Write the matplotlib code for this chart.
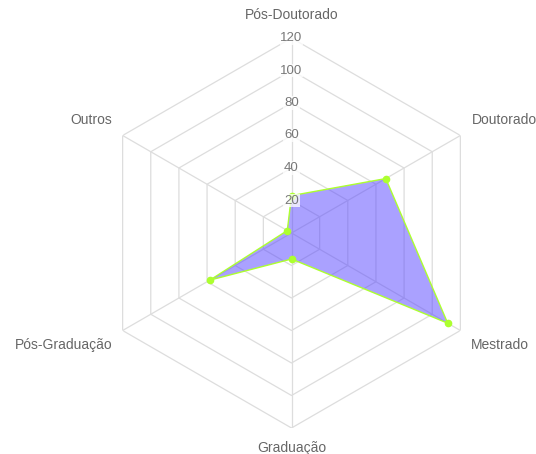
import numpy as np
import matplotlib
matplotlib.use("Agg")
import matplotlib.pyplot as plt

plt.rcParams['font.family'] = ['Liberation Sans', 'DejaVu Sans']

categories = ["Pós-Doutorado", "Doutorado", "Mestrado", "Graduação", "Pós-Graduação", "Outros"]
values = [23, 67, 111, 16, 58, 3]
ticks = [20, 40, 60, 80, 100, 120]

n = len(categories)
theta = np.arange(n) * 2 * np.pi / n
theta_c = np.append(theta, theta[0])

W, H = 536, 454
fig = plt.figure(figsize=(W / 100, H / 100), dpi=100)
cx, cy, R = 291.5, 233, 195
ax = fig.add_axes([(cx - R) / W, 1 - (cy + R) / H, 2 * R / W, 2 * R / H], projection='polar')
ax.set_theta_offset(np.pi / 2)
ax.set_theta_direction(-1)
ax.set_ylim(0, 120)
ax.grid(False)
ax.set_xticks([])
ax.set_yticks([])
ax.spines['polar'].set_visible(False)
ax.patch.set_visible(False)

grid_c = '#dddddd'
for t in ticks:
    ax.plot(theta_c, [t] * (n + 1), color=grid_c, lw=0.9, zorder=1)
for th in theta:
    ax.plot([th, th], [0, 120], color=grid_c, lw=0.9, zorder=1)

vals_c = values + values[:1]
ax.fill(theta_c, vals_c, color=(0.34, 0.27, 1.0), alpha=0.5, lw=0, zorder=2)
ax.plot(theta_c, vals_c, color='#adff2f', lw=1.0, zorder=3)
ax.plot(theta, values, 'o', color='#adff2f', ms=4.5, zorder=4)

for t in ticks:
    ax.text(0, t, str(t), ha='center', va='center', fontsize=9.5, color='#777777', zorder=5,
            bbox=dict(facecolor='white', alpha=0.75, edgecolor='none', pad=0.6))

offsets = [(0, 23, 'center'), (12, 16, 'left'), (11, -14.5, 'left'),
           (0, -20, 'center'), (-10.5, -14.5, 'right'), (-10.5, 15.5, 'right')]
for th, lab, (dx, dy, ha) in zip(theta, categories, offsets):
    ax.annotate(lab, xy=(th, 120), xytext=(dx, dy), textcoords='offset pixels',
                ha=ha, va='center', fontsize=10, color='#666666', annotation_clip=False)

fig.savefig("out.png", dpi=100)
